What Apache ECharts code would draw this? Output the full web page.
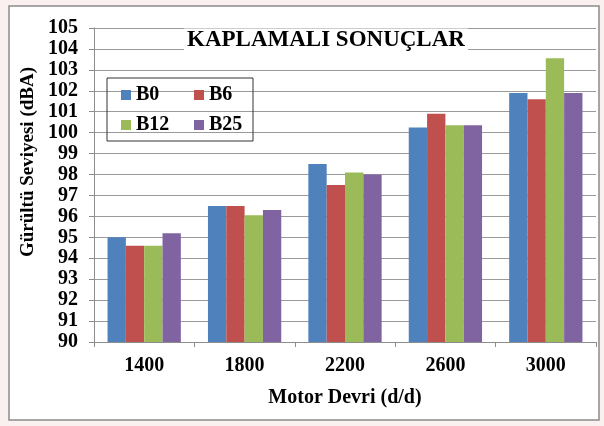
<!DOCTYPE html>
<html>
<head>
<meta charset="utf-8">
<script src="https://cdn.jsdelivr.net/npm/echarts@6/dist/echarts.min.js"></script>
<style>
  html, body { margin: 0; padding: 0; background: #fbf0f0; }
  #chart { width: 604px; height: 426px; }
</style>
</head>
<body>
<div id="chart"></div>
<script>
// Gürültü seviyesi - kaplamalı sonuçlar
const speeds = ['1400', '1800', '2200', '2600', '3000'];
const b0 = [95.0, 96.5, 98.5, 100.25, 101.9];
const b6 = [94.6, 96.5, 97.5, 100.9, 101.6];
const b12 = [94.6, 96.05, 98.1, 100.35, 103.55];
const b25 = [95.2, 96.3, 98.0, 100.35, 101.9];

const FONT = "'Liberation Serif', 'DejaVu Serif', serif";
const chart = echarts.init(document.getElementById('chart'));

const legendText = { fontFamily: FONT, fontWeight: 'bold', fontSize: 20, color: '#000', lineHeight: 20 };

const option = {
    animation: false,
    backgroundColor: 'transparent',
    graphic: [
        { type: 'rect', z: -10, shape: { x: 9, y: 6, width: 590, height: 414 },
          style: { fill: '#fff', stroke: '#8a8a8a', lineWidth: 1.5 } },
        { type: 'rect', z: 10, shape: { x: 107, y: 78, width: 146, height: 63 },
          style: { fill: 'none', stroke: '#333', lineWidth: 1 } }
    ],
    title: {
        text: 'KAPLAMALI SONUÇLAR',
        left: 184, top: 29,
        padding: [0, 3, 1, 3],
        backgroundColor: '#fff',
        textStyle: { fontFamily: FONT, fontWeight: 'bold', fontSize: 23, lineHeight: 22, color: '#000' }
    },
    legend: [
        { data: ['B0', 'B12'], orient: 'vertical', left: 121, top: 85, itemWidth: 10, itemHeight: 10,
          itemGap: 10, itemTextGap: 4, icon: 'rect', textStyle: legendText, padding: 0 },
        { data: ['B6', 'B25'], orient: 'vertical', left: 194, top: 85, itemWidth: 10, itemHeight: 10,
          itemGap: 10, itemTextGap: 4, icon: 'rect', textStyle: legendText, padding: 0 }
    ],
    grid: { left: 94, right: 8, top: 28, bottom: 84 },
    xAxis: {
        type: 'category',
        data: speeds,
        name: 'Motor Devri (d/d)',
        nameLocation: 'middle',
        nameGap: 46,
        nameTextStyle: { fontFamily: FONT, fontWeight: 'bold', fontSize: 20, color: '#000' },
        axisLine: { lineStyle: { color: '#8c8c8c' } },
        axisTick: { show: true, length: 5, lineStyle: { color: '#8c8c8c' } },
        axisLabel: { fontFamily: FONT, fontWeight: 'bold', fontSize: 20, color: '#000', margin: 14 }
    },
    yAxis: {
        type: 'value',
        min: 90, max: 105, interval: 1,
        name: 'Gürültü Seviyesi (dBA)',
        nameLocation: 'middle',
        nameGap: 54,
        // isim eksenin ortasından biraz yukarıda
        nameTextStyle: { fontFamily: FONT, fontWeight: 'bold', fontSize: 19, color: '#000', padding: [0, 0, 0, 46] },
        axisLine: { show: true, lineStyle: { color: '#8c8c8c' } },
        axisTick: { show: true, length: 5, lineStyle: { color: '#8c8c8c' } },
        axisLabel: { fontFamily: FONT, fontWeight: 'bold', fontSize: 20, color: '#000', margin: 16 },
        splitLine: { lineStyle: { color: '#9a9a9a' } }
    },
    series: [
        { name: 'B0', type: 'bar', data: b0, itemStyle: { color: '#4F81BD' }, barGap: '0%', barCategoryGap: '27%' },
        { name: 'B6', type: 'bar', data: b6, itemStyle: { color: '#C0504D' } },
        { name: 'B12', type: 'bar', data: b12, itemStyle: { color: '#9BBB59' } },
        { name: 'B25', type: 'bar', data: b25, itemStyle: { color: '#8064A2' } }
    ]
};
chart.setOption(option);
</script>
</body>
</html>
